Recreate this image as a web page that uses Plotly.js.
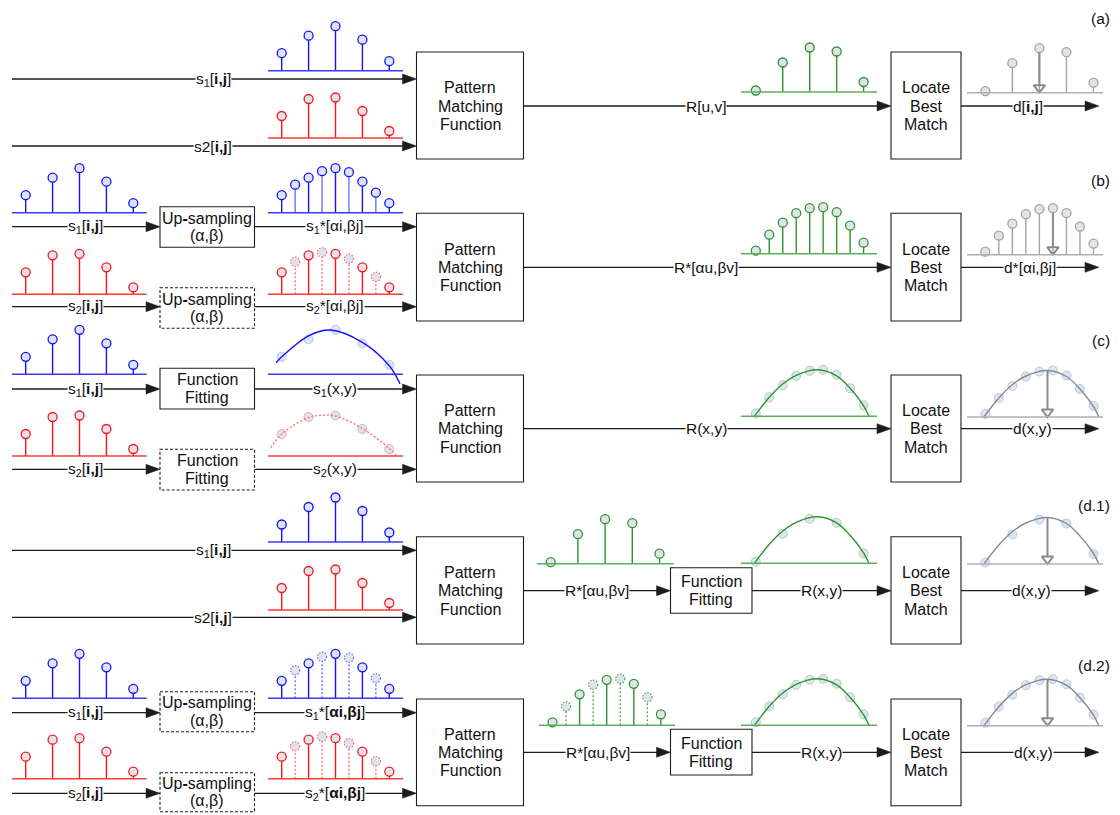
<!DOCTYPE html>
<html>
<head>
<meta charset="utf-8">
<script src="https://cdn.plot.ly/plotly-3.0.1.min.js"></script>
<style>html,body{margin:0;padding:0;background:#fff}</style>
</head>
<body>
<div id="chart" style="width:1120px;height:815px"></div>
<script>
// ---- signal values ---------------------------------------------------------
// sample amplitudes of the two input patterns
const s1 = [17.5, 35, 44.5, 31, 9.5];
const s2 = [22, 39, 40.5, 27, 7];
// up-sampled patterns (odd entries are the newly inserted samples)
const s1Up = [17.5, 28, 35, 41.5, 44.5, 40.5, 31, 20, 9.5];
const s2Up = [22, 32.5, 39, 42, 40.5, 35.5, 27, 17.5, 7];
// matching response, on the original and on the refined grid
const R = [1.5, 29.5, 44.5, 40.5, 10];
const RUp = [3, 19, 31, 40.5, 45.5, 46.5, 41.5, 28, 11];
// sample positions
const n5 = [0, 1, 2, 3, 4];
const n9 = [0, 0.5, 1, 1.5, 2, 2.5, 3, 3.5, 4];
// fitted continuous functions: position / amplitude
const s1FitX = [-0.21, 0, 1, 1.8, 3, 4, 4.4];
const s1FitY = [11.6, 17.5, 38.5, 44.3, 32, 8.5, -9.7];
const s2FitX = [-0.41, 0, 1, 1.5, 2, 3, 4, 4.27];
const s2FitY = [8.3, 22, 38.5, 40.7, 40, 27.5, 7.5, 0];
const RFitX = [-0.05, 0.5, 1, 1.5, 2.3, 3, 3.5, 4, 4.2];
const RFitY = [0, 19, 32.3, 41, 46.5, 40.5, 28, 10.5, 0];
// ---- text ------------------------------------------------------------------
const panelTags = ['(a)', '(b)', '(c)', '(d.1)', '(d.2)'];
const pmText = ['Pattern', 'Matching', 'Function'];
const lbText = ['Locate', 'Best', 'Match'];
const upText = ['Up<b>-</b>sampling', '(α,β)'];
const ffText = ['Function', 'Fitting'];

// ---- drawing setup ---------------------------------------------------------
const W = 1120, H = 815;
const FONT = '"Liberation Sans", Arial, sans-serif';
const FS = 15.5, FS_BLOCK = 16;
const INK = '#1c1c1c';
const FILL = '#dfe3ee';
const BLUE = '#1212ff', BLUE_L = '#7070ff', BLUE_B = '#3a3aff';
const RED = '#ff1414', RED_L = '#ff7070', RED_B = '#ff3a3a';
const GREEN = '#2b962b', GREEN_L = '#55aa55', GREEN_B = '#5cb05c';
const GRAY = '#a3a3a3', GRAY_D = '#8a8a8a', GRAY_B = '#b0b0b0';

const shapes = [], annotations = [];
const traces = [{type: 'scatter', x: [], y: [], xaxis: 'x', yaxis: 'y', hoverinfo: 'skip'}];
const layout = {
  width: W, height: H,
  margin: {l: 0, r: 0, t: 0, b: 0},
  paper_bgcolor: '#fff', plot_bgcolor: 'rgba(0,0,0,0)',
  showlegend: false,
  xaxis: {range: [0, W], domain: [0, 1], visible: false, fixedrange: true},
  yaxis: {range: [H, 0], domain: [0, 1], visible: false, fixedrange: true},
  shapes, annotations
};

// block positions (page pixels)
const PM = [416.5, 523.5];   // pattern matching block
const LB = [891, 961];       // locate best match block
const UP = [160, 254.5];     // up-sampling / fitting blocks on the inputs
const FF = [670.5, 752];     // fitting block on the response
const X_START = 12, X_END = 1099;

// placement of the small stem plots: pixel x of sample 0, spacing, ends of their axis line
const LEFT  = {t0: 25.7,  dx: 26.9,  left: 12,  right: 146.7};
const RIGHT = {t0: 281.7, dx: 26.9,  left: 268, right: 403};
const RESP  = {t0: 755.8, dx: 26.95, left: 741, right: 877};
const OUT   = {t0: 985.3, dx: 27.05, left: 967, right: 1103};
const MID1  = {t0: 550.7, dx: 27.2,  left: 537, right: 673.7};
const MID2  = {t0: 552.5, dx: 27.1,  left: 539, right: 675};

function seg(x0, y0, x1, y1) {
  shapes.push({type: 'line', xref: 'x', yref: 'y', x0, y0, x1, y1, line: {color: INK, width: 1.3}});
}
function arrow(x0, x1, y) {
  seg(x0, y, x1 - 10, y);
  shapes.push({type: 'path', xref: 'x', yref: 'y',
    path: `M${x1 - 14},${y - 5} L${x1},${y} L${x1 - 14},${y + 5} Z`,
    fillcolor: INK, line: {color: INK, width: 0.5}});
}
function box(xr, yr, dashed) {
  shapes.push({type: 'rect', xref: 'x', yref: 'y', x0: xr[0], x1: xr[1], y0: yr[0], y1: yr[1],
    fillcolor: 'rgba(0,0,0,0)', line: {color: INK, width: 1.1, dash: dashed ? '3px,2px' : 'solid'}});
}
function label(x, y, text, onLine, anchor, size) {
  annotations.push({xref: 'x', yref: 'y', x, y, text, showarrow: false,
    font: {family: FONT, size: size || FS, color: '#111'},
    bgcolor: onLine ? '#fff' : 'rgba(0,0,0,0)', borderpad: 0,
    xanchor: anchor || 'center', yanchor: 'middle'});
}
function blockText(xr, yc, lines, gap) {
  const n = lines.length;
  lines.forEach((t, i) => label((xr[0] + xr[1]) / 2, yc + (i - (n - 1) / 2) * gap, t, false, 'center', FS_BLOCK));
}

// one small plot = its own pair of hidden axes; 1 amplitude unit = 1 px
let axN = 1;
function mini(pl, base) {
  axN++;
  const lo = 14, hi = 54;
  layout['xaxis' + axN] = {domain: [pl.left / W, pl.right / W],
    range: [(pl.left - pl.t0) / pl.dx, (pl.right - pl.t0) / pl.dx],
    visible: false, fixedrange: true, anchor: 'y' + axN};
  layout['yaxis' + axN] = {domain: [1 - (base + lo) / H, 1 - (base - hi) / H],
    range: [-lo, hi], visible: false, fixedrange: true, anchor: 'x' + axN};
  return {x: 'x' + axN, y: 'y' + axN};
}
function baseline(ax, color) {
  shapes.push({type: 'line', xref: ax.x + ' domain', yref: ax.y, x0: 0, x1: 1, y0: 0, y1: 0,
    line: {color, width: 1.6}});
}
function stems(ax, xs, ys, color, dash) {
  const X = [], Y = [];
  xs.forEach((x, i) => { X.push(x, x, null); Y.push(0, ys[i], null); });
  traces.push({type: 'scatter', mode: 'lines', x: X, y: Y, xaxis: ax.x, yaxis: ax.y,
    line: {color, width: 1.4, dash}, hoverinfo: 'skip'});
}
function heads(ax, xs, ys, color) {
  traces.push({type: 'scatter', mode: 'markers', x: xs, y: ys, xaxis: ax.x, yaxis: ax.y,
    cliponaxis: false, hoverinfo: 'skip',
    marker: {size: 9, color: FILL, line: {color, width: 1.3}}});
}
function dottedHeads(ax, xs, ys, color) {
  xs.forEach((x, i) => shapes.push({type: 'circle', xref: ax.x, yref: ax.y,
    xsizemode: 'pixel', ysizemode: 'pixel', xanchor: x, yanchor: ys[i],
    x0: -4.6, x1: 4.6, y0: -4.6, y1: 4.6, fillcolor: FILL,
    line: {color, width: 1.2, dash: '1.5px,1.5px'}}));
}
function argmax(a) { return a.reduce((b, v, i) => (v > a[b] ? i : b), 0); }
function downArrow(ax, x, top) {
  traces.push({type: 'scatter', mode: 'lines', x: [x, x], y: [top, 7], xaxis: ax.x, yaxis: ax.y,
    line: {color: GRAY_D, width: 2}, hoverinfo: 'skip'});
  traces.push({type: 'scatter', mode: 'markers', x: [x], y: [5], xaxis: ax.x, yaxis: ax.y,
    cliponaxis: false, hoverinfo: 'skip',
    marker: {symbol: 'triangle-down-open', size: 10, color: GRAY_D, line: {color: GRAY_D, width: 2}}});
}
// stem plot; `isNew` marks inserted samples, drawn light ('light') or dotted ('dot')
function stemPlot(pl, base, xs, ys, color, baseColor, opt) {
  opt = opt || {};
  const ax = mini(pl, base);
  baseline(ax, baseColor);
  const isNew = i => !!(opt.isNew && opt.isNew(i));
  const ox = xs.filter((_, i) => !isNew(i)), oy = ys.filter((_, i) => !isNew(i));
  const nx = xs.filter((_, i) => isNew(i)), ny = ys.filter((_, i) => isNew(i));
  stems(ax, ox, oy, color, 'solid');
  if (nx.length) {
    if (opt.style === 'light') { stems(ax, nx, ny, opt.newColor, 'solid'); heads(ax, nx, ny, color); }
    else { stems(ax, nx, ny, opt.newColor, '2px,2px'); dottedHeads(ax, nx, ny, opt.newColor); }
  }
  heads(ax, ox, oy, color);
  return ax;
}
// fitted curve with faint sample rings underneath
function fitPlot(pl, base, fx, fy, color, dash, baseColor, mx, my, ring) {
  const ax = mini(pl, base);
  baseline(ax, baseColor);
  traces.push({type: 'scatter', mode: 'markers', x: mx, y: my, xaxis: ax.x, yaxis: ax.y,
    cliponaxis: false, hoverinfo: 'skip',
    marker: {size: 9, color: 'rgba(214,222,238,0.8)', line: {color: ring, width: 1}}});
  traces.push({type: 'scatter', mode: 'lines', x: fx, y: fy, xaxis: ax.x, yaxis: ax.y,
    line: {color, width: 1.4, dash, shape: 'spline', smoothing: 1}, hoverinfo: 'skip'});
  return ax;
}
const odd = i => i % 2 === 1;
const RING_B = 'rgba(170,190,228,0.85)', RING_R = 'rgba(235,150,165,0.8)', RING_G = 'rgba(160,200,170,0.85)';

// ---- (a) direct matching -----------------------------------------------------
(function () {
  const ys = [79, 146], box_ = [52, 159], mid = 106;
  arrow(X_START, PM[0], ys[0]); arrow(X_START, PM[0], ys[1]);
  label(213, ys[0], 's<sub>1</sub>[<b>i,j</b>]', true);
  label(213, ys[1], 's2[<b>i,j</b>]', true);
  stemPlot(RIGHT, 70.7, n5, s1, BLUE, BLUE_B);
  stemPlot(RIGHT, 138, n5, s2, RED, RED_B);
  box(PM, box_); box(LB, box_);
  blockText(PM, mid, pmText, 18.3); blockText(LB, mid, lbText, 18.3);
  arrow(PM[1], LB[0], mid); label(706, mid, 'R[u,v]', true);
  arrow(LB[1], X_END, mid); label(1028, mid, 'd[<b>i,j</b>]', true);
  stemPlot(RESP, 92, n5, R, GREEN, GREEN_B);
  const g = stemPlot(OUT, 92.7, n5, R, GRAY, GRAY_B);
  const k = argmax(R); downArrow(g, n5[k], R[k] - 4.5);
  label(1111, 18, panelTags[0], false, 'right');
})();

// ---- (b) up-sampled inputs ---------------------------------------------------
(function () {
  const ys = [226.7, 306.7], box_ = [213.3, 321], mid = 267.3;
  arrow(X_START, UP[0], ys[0]); arrow(X_START, UP[0], ys[1]);
  box(UP, [206.7, 247.3], false); box(UP, [287.7, 328.3], true);
  blockText(UP, 227, upText, 17.5); blockText(UP, 308, upText, 17.5);
  arrow(UP[1], PM[0], ys[0]); arrow(UP[1], PM[0], ys[1]);
  label(85, ys[0], 's<sub>1</sub>[<b>i,j</b>]', true);
  label(85, ys[1], 's<sub>2</sub>[<b>i,j</b>]', true);
  label(335, ys[0], 's<sub>1</sub>*[αi,βj]', true);
  label(335, ys[1], 's<sub>2</sub>*[αi,βj]', true);
  stemPlot(LEFT, 212.7, n5, s1, BLUE, BLUE_B);
  stemPlot(LEFT, 294.3, n5, s2, RED, RED_B);
  stemPlot(RIGHT, 212.7, n9, s1Up, BLUE, BLUE_B, {isNew: odd, style: 'light', newColor: BLUE_L});
  stemPlot(RIGHT, 294.3, n9, s2Up, RED, RED_B, {isNew: odd, style: 'dot', newColor: RED_L});
  box(PM, box_); box(LB, box_);
  blockText(PM, mid, pmText, 18.3); blockText(LB, mid, lbText, 18.3);
  arrow(PM[1], LB[0], mid); label(706, mid, 'R*[αu,βv]', true);
  arrow(LB[1], X_END, mid); label(1030, mid, 'd*[αi,βj]', true);
  stemPlot(RESP, 253.7, n9, RUp, GREEN, GREEN_B);
  const g = stemPlot(OUT, 254.7, n9, RUp, GRAY, GRAY_B);
  const k = argmax(RUp); downArrow(g, n9[k], RUp[k] - 4.5);
  label(1111, 180, panelTags[1], false, 'right');
})();

// ---- (c) fitted inputs ---------------------------------------------------------
(function () {
  const ys = [389, 469.3], box_ = [375, 482], mid = 428.7;
  arrow(X_START, UP[0], ys[0]); arrow(X_START, UP[0], ys[1]);
  box(UP, [368.3, 409], false); box(UP, [449.3, 490], true);
  blockText(UP, 388.7, ffText, 17.8); blockText(UP, 469.7, ffText, 17.8);
  arrow(UP[1], PM[0], ys[0]); arrow(UP[1], PM[0], ys[1]);
  label(85, ys[0], 's<sub>1</sub>[<b>i,j</b>]', true);
  label(85, ys[1], 's<sub>2</sub>[<b>i,j</b>]', true);
  label(335, ys[0], 's<sub>1</sub>(x,y)', true);
  label(335, ys[1], 's<sub>2</sub>(x,y)', true);
  stemPlot(LEFT, 374.3, n5, s1, BLUE, BLUE_B);
  stemPlot(LEFT, 456, n5, s2, RED, RED_B);
  fitPlot(RIGHT, 374.3, s1FitX, s1FitY, BLUE, 'solid', BLUE_B, n5, s1, RING_B);
  fitPlot(RIGHT, 456, s2FitX, s2FitY, RED_L, '2px,2px', RED_B, n5, s2, RING_R);
  box(PM, box_); box(LB, box_);
  blockText(PM, mid, pmText, 18.3); blockText(LB, mid, lbText, 18.3);
  arrow(PM[1], LB[0], mid); label(706, mid, 'R(x,y)', true);
  arrow(LB[1], X_END, mid); label(1032, mid, 'd(x,y)', true);
  fitPlot(RESP, 416.3, RFitX, RFitY, GREEN, 'solid', GREEN_B, n9, RUp, RING_G);
  const g = fitPlot(OUT, 417, RFitX, RFitY, GRAY_D, 'solid', GRAY_B, n9, RUp, RING_B);
  const k = argmax(RFitY); downArrow(g, RFitX[k], RFitY[k]);
  label(1111, 340, panelTags[2], false, 'right');
})();

// ---- (d.1) fitting of the matching response ------------------------------------
(function () {
  const ys = [550.3, 617.3], box_ = [536.7, 644], mid = 590.7;
  arrow(X_START, PM[0], ys[0]); arrow(X_START, PM[0], ys[1]);
  label(213, ys[0], 's<sub>1</sub>[<b>i,j</b>]', true);
  label(213, ys[1], 's2[<b>i,j</b>]', true);
  stemPlot(RIGHT, 542, n5, s1, BLUE, BLUE_B);
  stemPlot(RIGHT, 610, n5, s2, RED, RED_B);
  box(PM, box_); box(LB, box_); box(FF, [567.7, 613.3], false);
  blockText(PM, mid, pmText, 18.3); blockText(LB, mid, lbText, 18.3);
  blockText(FF, mid, ffText, 17.5);
  arrow(PM[1], FF[0], mid); label(597, mid, 'R*[αu,βv]', true);
  arrow(FF[1], LB[0], mid); label(821, mid, 'R(x,y)', true);
  arrow(LB[1], X_END, mid); label(1031, mid, 'd(x,y)', true);
  stemPlot(MID1, 563.7, n5, R, GREEN, GREEN_B);
  fitPlot(RESP, 563.3, RFitX, RFitY, GREEN, 'solid', GREEN_B, n5, R, RING_G);
  const g = fitPlot(OUT, 564, RFitX, RFitY, GRAY_D, 'solid', GRAY_B, n5, R, RING_B);
  const k = argmax(RFitY); downArrow(g, RFitX[k], RFitY[k]);
  label(1111, 505, panelTags[3], false, 'right');
})();

// ---- (d.2) up-sampling followed by fitting -------------------------------------
(function () {
  const ys = [712.7, 793.3], box_ = [699, 805.7], mid = 752.3;
  arrow(X_START, UP[0], ys[0]); arrow(X_START, UP[0], ys[1]);
  box(UP, [691.7, 731.7], true); box(UP, [772.7, 811.7], true);
  blockText(UP, 711.7, upText, 17.5); blockText(UP, 792.2, upText, 17.5);
  arrow(UP[1], PM[0], ys[0]); arrow(UP[1], PM[0], ys[1]);
  label(85, ys[0], 's<sub>1</sub>[<b>i,j</b>]', true);
  label(85, ys[1], 's<sub>2</sub>[<b>i,j</b>]', true);
  label(335, ys[0], 's<sub>1</sub>*[<b>αi,βj</b>]', true);
  label(335, ys[1], 's<sub>2</sub>*[<b>αi,βj</b>]', true);
  stemPlot(LEFT, 698.3, n5, s1, BLUE, BLUE_B);
  stemPlot(LEFT, 778.7, n5, s2, RED, RED_B);
  stemPlot(RIGHT, 698.3, n9, s1Up, BLUE, BLUE_B, {isNew: odd, style: 'dot', newColor: BLUE_L});
  stemPlot(RIGHT, 778.7, n9, s2Up, RED, RED_B, {isNew: odd, style: 'dot', newColor: RED_L});
  box(PM, box_); box(LB, box_); box(FF, [729.3, 775], false);
  blockText(PM, mid, pmText, 18.3); blockText(LB, mid, lbText, 18.3);
  blockText(FF, mid, ffText, 17.5);
  arrow(PM[1], FF[0], mid); label(598, mid, 'R*[αu,βv]', true);
  arrow(FF[1], LB[0], mid); label(821, mid, 'R(x,y)', true);
  arrow(LB[1], X_END, mid); label(1033, mid, 'd(x,y)', true);
  stemPlot(MID2, 725.3, n9, RUp, GREEN, GREEN_B, {isNew: odd, style: 'dot', newColor: GREEN_L});
  fitPlot(RESP, 725.3, RFitX, RFitY, GREEN, 'solid', GREEN_B, n9, RUp, RING_G);
  const g = fitPlot(OUT, 725.7, RFitX, RFitY, GRAY_D, 'solid', GRAY_B, n9, RUp, RING_B);
  const k = argmax(RFitY); downArrow(g, RFitX[k], RFitY[k]);
  label(1111, 665, panelTags[4], false, 'right');
})();

Plotly.newPlot('chart', traces, layout, {staticPlot: true, displayModeBar: false});
</script>
</body>
</html>
